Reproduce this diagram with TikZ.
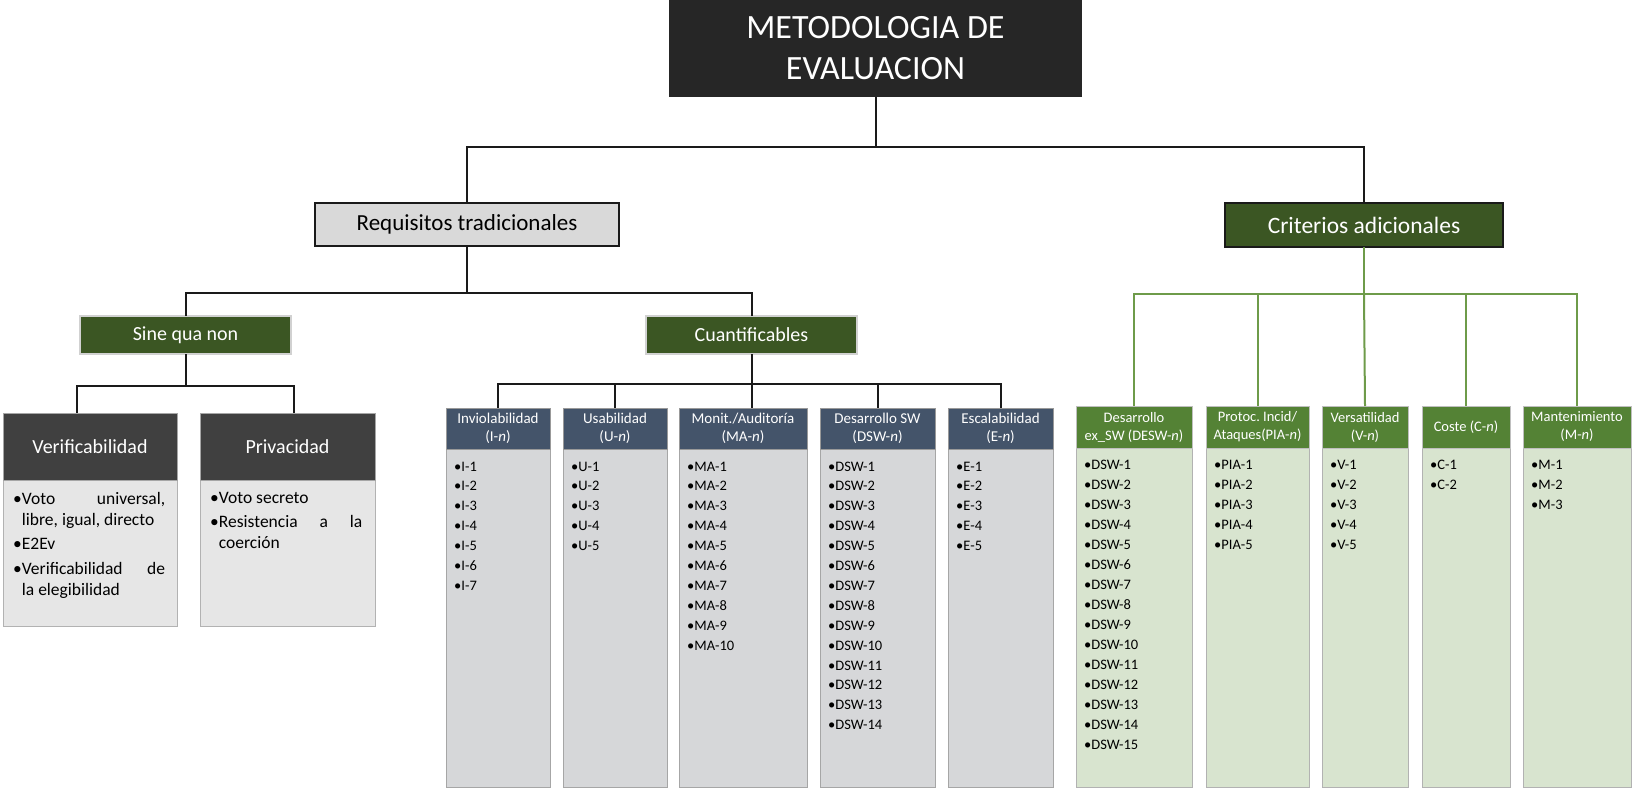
\documentclass[tikz,border=0pt]{standalone}
\usepackage{fontspec}
\setmainfont{Carlito}
\frenchspacing

\definecolor{titlebg}{HTML}{262626}
\definecolor{reqgray}{HTML}{D9D9D9}
\definecolor{darkgreen}{HTML}{3B5623}
\definecolor{midgreen}{HTML}{548235}
\definecolor{palegreen}{HTML}{D8E4CF}
\definecolor{slate}{HTML}{44546A}
\definecolor{colgray}{HTML}{D6D7D9}
\definecolor{boxgray}{HTML}{E6E6E6}
\definecolor{hdrdark}{HTML}{404040}
\definecolor{lnkgreen}{HTML}{6E9B4A}
\definecolor{lnkblack}{HTML}{1A1A1A}

% bulleted paragraphs with a hanging indent
\newlength\bulw
\newcommand\bitem[1]{\par\hangindent=\bulw\hangafter=1\noindent\textbullet#1}
\newcommand\bodytext[1]{\parbox[t]{152pt}{\fontsize{17.5}{21}\selectfont
  \settowidth\bulw{\textbullet}\parskip=3.5pt\relax #1}}

\tikzset{
  rect/.style={rectangle, inner sep=0pt, outer sep=0pt, anchor=north west},
  titlebox/.style={rect, fill=titlebg, text=white, align=center,
    font=\fontsize{34}{41}\selectfont},
  reqbox/.style={rect, fill=reqgray, draw=lnkblack, line width=2pt,
    font=\fontsize{23}{26}\selectfont},
  critbox/.style={rect, fill=darkgreen, draw=lnkblack, line width=2pt, text=white,
    font=\fontsize{23.5}{26}\selectfont},
  subbox/.style={rect, fill=darkgreen, draw=black!18, line width=1.5pt, text=white,
    font=\fontsize{20}{24}\selectfont},
  cardhead/.style={rect, fill=hdrdark, draw=black!35, line width=0.8pt, text=white,
    font=\fontsize{20}{24}\selectfont},
  cardbody/.style={rect, fill=boxgray, draw=black!30, line width=0.8pt},
  colhead/.style={rect, fill=slate, draw=black!40, line width=0.8pt, text=white,
    align=center, font=\fontsize{15}{18}\selectfont},
  colbody/.style={rect, fill=colgray, draw=black!35, line width=0.8pt},
  gcolhead/.style={rect, fill=midgreen, draw=black!25, line width=0.8pt, text=white,
    align=center, font=\fontsize{14.5}{18}\selectfont},
  gcolbody/.style={rect, fill=palegreen, draw=black!30, line width=0.8pt},
  item/.style={anchor=base west, inner sep=0pt, font=\fontsize{14.5}{16}\selectfont},
  link/.style={draw=lnkblack, line width=2pt},
  glink/.style={draw=lnkgreen, line width=2pt},
}

\begin{document}
\begin{tikzpicture}[x=1pt, y=-1pt]
\useasboundingbox (0,0) rectangle (1632,787);

% top of the tree
\node[titlebox, minimum width=413pt, minimum height=97pt] (title) at (669,0)
  {METODOLOGIA DE\\EVALUACION};
\node[reqbox, minimum width=304pt, minimum height=43pt] (req) at (315,203)
  {Requisitos tradicionales};
\node[critbox, minimum width=278pt, minimum height=44pt] (crit) at (1225,203)
  {Criterios adicionales};
\node[subbox, minimum width=211pt, minimum height=38pt] (sine) at (80,316)
  {Sine qua non};
\node[subbox, minimum width=211pt, minimum height=38pt] (cuant) at (646,316)
  {Cuantificables};

% the two "sine qua non" cards
\node[cardbody, minimum width=174pt, minimum height=146pt] (verif-body) at (3,480) {};
\node[cardhead, minimum width=174pt, minimum height=67pt] (verif) at (3,413) {Verificabilidad};
\node[cardbody, minimum width=175pt, minimum height=146pt] (priv-body) at (200,480) {};
\node[cardhead, minimum width=175pt, minimum height=67pt] (priv) at (200,413) {Privacidad};

\node[anchor=north west, inner sep=0pt] (verif-txt) at (13,492) {\bodytext{%
  \bitem{Voto universal,\linebreak libre, igual, directo}
  \bitem{E2Ev}
  \bitem{Verificabilidad de\linebreak la elegibilidad}}};
\node[anchor=north west, inner sep=0pt] (priv-txt) at (210,492) {\bodytext{%
  \bitem{Voto secreto}
  \bitem{Resistencia a la\linebreak coerción}}};

% quantifiable requirement columns
\foreach \nm/\cx/\w/\hd/\pre/\n in {
    inv/446/104/{Inviolabilidad\\(I-\textit{n})}/I/7,
    usa/563/104/{Usabilidad\\(U-\textit{n})}/U/5,
    mon/679/128/{Monit./Auditoría\\(MA-\textit{n})}/MA/10,
    dsw/820/115/{Desarrollo SW\\(DSW-\textit{n})}/DSW/14,
    esc/948/105/{Escalabilidad\\(E-\textit{n})}/E/5}{
  \node[colbody, minimum width=\w pt, minimum height=338pt] (\nm-body) at (\cx,449) {};
  \node[colhead, minimum width=\w pt, minimum height=41pt] (\nm) at (\cx,408) {\hd};
  \foreach \i in {1,...,\n}
    \node[item] (\nm-\i) at ({\cx+8},{471+19.9*(\i-1)}) {\textbullet\pre-\i};
}

% additional criteria columns
\foreach \nm/\cx/\w/\hd/\pre/\n in {
    dex/1076/116/{Desarrollo\\ex\_SW (DESW-\textit{n})}/DSW/15,
    pia/1206/103/{Protoc. Incid/\\Ataques(PIA-\textit{n})}/PIA/5,
    ver/1322/86/{Versatilidad\\(V-\textit{n})}/V/5,
    cos/1422/88/{Coste (C-\textit{n})}/C/2,
    man/1523/108/{Mantenimiento\\(M-\textit{n})}/M/3}{
  \node[gcolbody, minimum width=\w pt, minimum height=339pt] (\nm-body) at (\cx,448) {};
  \node[gcolhead, minimum width=\w pt, minimum height=42pt] (\nm) at (\cx,406) {\hd};
  \foreach \i in {1,...,\n}
    \node[item] (\nm-\i) at ({\cx+8},{469+20*(\i-1)}) {\textbullet\pre-\i};
}

% connectors
\path (title.south) ++(0,50) coordinate (h0);
\draw[link] (title.south) -- (h0);
\draw[link] (h0) -| (req.north);
\draw[link] (h0) -| (crit.north);

\path (req.south) ++(0,47) coordinate (h1);
\draw[link] (req.south) -- (h1);
\draw[link] (h1) -| (sine.north);
\draw[link] (h1) -| (cuant.north);

\path (sine.south) ++(0,32) coordinate (h2);
\draw[link] (sine.south) -- (h2);
\draw[link] (h2) -| ([xshift=-13pt]verif.north);
\draw[link] (h2) -| ([xshift=6.5pt]priv.north);

\path (cuant.south) ++(0,30) coordinate (h3);
\draw[link] (cuant.south) -- (h3);
\draw[link] (h3) -| (inv.north);
\draw[link] (h3) -| (usa.north);
\draw[link] (h3) -- (h3 |- mon.north);
\draw[link] (h3) -| (dsw.north);
\draw[link] (h3) -| (esc.north);

\path (crit.south) ++(0,47) coordinate (h4);
\draw[glink] (crit.south) -- (h4);
\draw[glink] (h4) -| (dex.north);
\draw[glink] (h4) -| (pia.north);
\draw[glink] (h4) -- (ver.north);
\draw[glink] (h4) -| (cos.north);
\draw[glink] (h4) -| (man.north);
\end{tikzpicture}
\end{document}
